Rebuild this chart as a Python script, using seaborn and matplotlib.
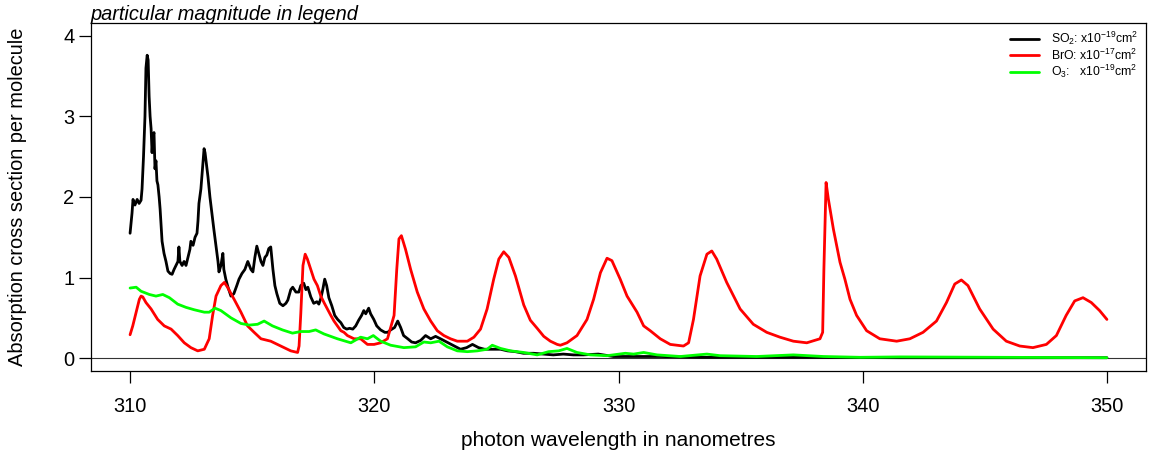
import numpy as np
import pandas as pd
import matplotlib
matplotlib.use("Agg")
import matplotlib.pyplot as plt
import seaborn as sns
from matplotlib.lines import Line2D

# ---------------- data ----------------
so2_wl = [310.00, 310.08, 310.12, 310.20, 310.29, 310.37, 310.45, 310.49, 310.55, 310.61,
          310.65, 310.70, 310.74, 310.78, 310.82, 310.86, 310.90, 310.94, 310.98, 311.02,
          311.06, 311.10, 311.14, 311.19, 311.23, 311.27, 311.31, 311.39, 311.47, 311.55,
          311.64, 311.72, 311.80, 311.88, 311.96, 312.00, 312.04, 312.13, 312.21, 312.29,
          312.37, 312.45, 312.49, 312.58, 312.66, 312.74, 312.78, 312.82, 312.90, 312.98,
          313.03, 313.07, 313.11, 313.19, 313.27, 313.35, 313.43, 313.52, 313.60, 313.64,
          313.72, 313.80, 313.84, 313.92, 314.01, 314.13, 314.25, 314.37, 314.46, 314.58,
          314.70, 314.82, 314.95, 315.03, 315.11, 315.19, 315.27, 315.36, 315.44, 315.52,
          315.60, 315.68, 315.76, 315.85, 315.93, 316.01, 316.13, 316.26, 316.38, 316.46,
          316.58, 316.66, 316.79, 316.91, 316.99, 317.11, 317.20, 317.28, 317.40, 317.52,
          317.65, 317.73, 317.81, 317.89, 317.97, 318.05, 318.14, 318.26, 318.38, 318.50,
          318.63, 318.75, 318.87, 318.99, 319.12, 319.24, 319.36, 319.48, 319.57, 319.65,
          319.77, 319.85, 319.98, 320.10, 320.26, 320.43, 320.55, 320.67, 320.83, 320.96,
          321.08, 321.20, 321.37, 321.53, 321.69, 321.90, 322.10, 322.31, 322.51, 322.71,
          322.96, 323.21, 323.53, 323.78, 324.02, 324.27, 324.51, 324.84, 325.17, 325.45,
          325.78, 326.11, 326.52, 326.93, 327.33, 327.74, 328.15, 328.56, 329.17, 329.79,
          330.48, 331.71, 333.34, 335.39, 337.43, 341.52, 345.61, 350.00]
so2_val = [1.55, 1.80, 1.97, 1.90, 1.97, 1.92, 1.96, 2.10, 2.50, 3.00,
           3.60, 3.76, 3.70, 3.25, 3.00, 2.85, 2.55, 2.75, 2.80, 2.35,
           2.45, 2.20, 2.15, 2.00, 1.85, 1.65, 1.45, 1.30, 1.20, 1.08,
           1.05, 1.04, 1.10, 1.15, 1.20, 1.38, 1.20, 1.15, 1.20, 1.15,
           1.25, 1.35, 1.45, 1.40, 1.50, 1.55, 1.70, 1.92, 2.10, 2.40,
           2.60, 2.55, 2.45, 2.25, 2.00, 1.80, 1.60, 1.39, 1.20, 1.07,
           1.15, 1.30, 1.10, 0.98, 0.88, 0.77, 0.80, 0.90, 0.98, 1.05,
           1.10, 1.20, 1.10, 1.07, 1.25, 1.39, 1.30, 1.20, 1.15, 1.25,
           1.28, 1.36, 1.38, 1.10, 0.90, 0.80, 0.68, 0.65, 0.68, 0.72,
           0.85, 0.88, 0.82, 0.82, 0.90, 0.93, 0.85, 0.88, 0.76, 0.68,
           0.70, 0.67, 0.74, 0.85, 0.98, 0.90, 0.75, 0.65, 0.53, 0.48,
           0.44, 0.38, 0.36, 0.37, 0.36, 0.40, 0.47, 0.53, 0.59, 0.55,
           0.62, 0.55, 0.48, 0.40, 0.35, 0.32, 0.32, 0.35, 0.38, 0.46,
           0.38, 0.28, 0.24, 0.20, 0.19, 0.22, 0.28, 0.24, 0.27, 0.24,
           0.20, 0.16, 0.11, 0.13, 0.17, 0.13, 0.11, 0.11, 0.11, 0.09,
           0.08, 0.06, 0.06, 0.05, 0.04, 0.05, 0.04, 0.04, 0.05, 0.02,
           0.02, 0.02, 0.01, 0.01, 0.01, 0.005, 0.005, 0.005]

bro_wl = [310.00, 310.11, 310.25, 310.38, 310.45, 310.52, 310.65, 310.86, 311.13, 311.40,
          311.68, 311.95, 312.22, 312.49, 312.77, 313.04, 313.24, 313.38, 313.52, 313.72,
          313.86, 313.99, 314.26, 314.54, 314.81, 315.08, 315.36, 315.76, 316.17, 316.58,
          316.86, 316.92, 316.99, 317.08, 317.17, 317.26, 317.40, 317.53, 317.67, 317.81,
          317.94, 318.08, 318.22, 318.35, 318.49, 318.63, 318.76, 318.90, 319.17, 319.44,
          319.72, 319.99, 320.26, 320.54, 320.81, 320.92, 321.01, 321.11, 321.28, 321.49,
          321.76, 322.03, 322.31, 322.58, 322.85, 323.12, 323.40, 323.81, 324.08, 324.35,
          324.62, 324.89, 325.10, 325.30, 325.51, 325.78, 326.12, 326.39, 326.67, 326.94,
          327.21, 327.49, 327.62, 327.89, 328.30, 328.71, 328.98, 329.26, 329.53, 329.73,
          330.07, 330.35, 330.76, 331.03, 331.30, 331.71, 332.12, 332.66, 332.87, 333.07,
          333.34, 333.62, 333.82, 334.02, 334.43, 334.98, 335.52, 336.07, 336.61, 337.16,
          337.71, 338.25, 338.36, 338.41, 338.50, 338.59, 338.80, 339.07, 339.27, 339.48,
          339.75, 340.16, 340.70, 341.39, 341.93, 342.47, 343.02, 343.43, 343.77, 344.04,
          344.31, 344.79, 345.34, 345.88, 346.43, 346.97, 347.52, 347.93, 348.33, 348.68,
          349.02, 349.36, 349.70, 350.00]
bro_val = [0.29, 0.40, 0.57, 0.73, 0.77, 0.76, 0.69, 0.61, 0.48, 0.40,
           0.36, 0.28, 0.19, 0.13, 0.09, 0.11, 0.24, 0.53, 0.77, 0.90,
           0.94, 0.88, 0.73, 0.57, 0.40, 0.32, 0.24, 0.21, 0.15, 0.09,
           0.07, 0.15, 0.55, 1.15, 1.29, 1.23, 1.10, 0.98, 0.90, 0.77,
           0.69, 0.61, 0.53, 0.46, 0.40, 0.34, 0.32, 0.28, 0.24, 0.24,
           0.17, 0.17, 0.19, 0.24, 0.53, 1.10, 1.48, 1.52, 1.35, 1.10,
           0.82, 0.61, 0.46, 0.34, 0.28, 0.24, 0.21, 0.21, 0.26, 0.36,
           0.61, 0.98, 1.23, 1.32, 1.25, 1.02, 0.66, 0.47, 0.37, 0.27,
           0.21, 0.17, 0.16, 0.19, 0.28, 0.48, 0.73, 1.06, 1.24, 1.21,
           0.98, 0.77, 0.57, 0.40, 0.34, 0.24, 0.17, 0.15, 0.19, 0.48,
           1.02, 1.29, 1.33, 1.23, 0.94, 0.61, 0.42, 0.32, 0.26, 0.21,
           0.19, 0.24, 0.32, 1.10, 2.18, 1.98, 1.60, 1.19, 0.98, 0.73,
           0.53, 0.34, 0.24, 0.21, 0.24, 0.32, 0.46, 0.69, 0.92, 0.97,
           0.90, 0.61, 0.36, 0.21, 0.15, 0.13, 0.17, 0.28, 0.53, 0.71,
           0.75, 0.69, 0.59, 0.48]

o3_wl = [310.00, 310.25, 310.45, 310.79, 311.06, 311.34, 311.61, 311.95, 312.29, 312.63,
         313.04, 313.24, 313.48, 313.72, 314.13, 314.54, 314.88, 315.22, 315.49, 315.83,
         316.24, 316.65, 316.99, 317.33, 317.60, 317.94, 318.49, 319.04, 319.44, 319.72,
         319.96, 320.26, 320.67, 321.21, 321.69, 322.03, 322.31, 322.65, 322.99, 323.40,
         323.81, 324.22, 324.62, 324.83, 325.17, 325.58, 326.12, 326.67, 327.14, 327.55,
         327.89, 328.30, 328.85, 329.53, 330.28, 330.62, 331.03, 331.58, 332.53, 333.62,
         334.16, 335.66, 337.16, 338.39, 339.89, 341.52, 345.61, 350.00]
o3_val = [0.87, 0.88, 0.83, 0.79, 0.77, 0.79, 0.75, 0.67, 0.63, 0.60,
          0.57, 0.57, 0.62, 0.59, 0.50, 0.43, 0.41, 0.42, 0.46, 0.40,
          0.35, 0.31, 0.33, 0.33, 0.35, 0.30, 0.24, 0.19, 0.26, 0.24,
          0.28, 0.21, 0.16, 0.13, 0.14, 0.20, 0.19, 0.21, 0.14, 0.09,
          0.08, 0.09, 0.11, 0.16, 0.12, 0.09, 0.07, 0.04, 0.08, 0.09,
          0.12, 0.07, 0.04, 0.03, 0.06, 0.05, 0.07, 0.04, 0.02, 0.05,
          0.03, 0.02, 0.04, 0.02, 0.01, 0.015, 0.01, 0.005]

labels = ["SO$_2$: x10$^{-19}$cm$^2$",
          "BrO: x10$^{-17}$cm$^2$",
          "O$_3$:   x10$^{-19}$cm$^2$"]
colors = ["#000000", "#FF0000", "#00FF00"]
xticks = [310, 320, 330, 340, 350]
yticks = [0, 1, 2, 3, 4]

# ---------------- styling ----------------
sns.set_style("white")
plt.rcParams["font.family"] = ["Liberation Sans", "DejaVu Sans"]
plt.rcParams["mathtext.fontset"] = "custom"
plt.rcParams["mathtext.rm"] = "Liberation Sans"
plt.rcParams["mathtext.it"] = "Liberation Sans:italic"
for k in ["text.color", "axes.labelcolor", "xtick.color", "ytick.color"]:
    plt.rcParams[k] = "black"

FS = 14.4
W, H = 1151, 462
fig = plt.figure(figsize=(W / 100, H / 100), dpi=100)
L, R, T, B = 91, 1146, 23, 371
ax = fig.add_axes([L / W, 1 - B / H, (R - L) / W, (B - T) / H])

frames = [
    pd.DataFrame({"wl": so2_wl, "v": so2_val}),
    pd.DataFrame({"wl": bro_wl, "v": bro_val}),
    pd.DataFrame({"wl": o3_wl, "v": o3_val}),
]
for df, c in zip(frames, colors):
    sns.lineplot(data=df, x="wl", y="v", ax=ax, color=c, linewidth=2.0,
                 estimator=None, sort=False)

ax.axhline(0, color="#333333", linewidth=0.8, zorder=0)

ax.set_xlim(308.4, 351.6)
ax.set_ylim(-0.16, 4.16)
ax.set_xticks(xticks)
ax.set_yticks(yticks)
ax.set_xlabel("")
ax.set_ylabel("")
for s in ax.spines.values():
    s.set_visible(True)
    s.set_color("black")
    s.set_linewidth(0.9)
ax.tick_params(axis="both", which="major", direction="out", length=8.5, width=0.9,
               color="black", labelcolor="black", labelsize=FS, left=True, bottom=True)
ax.tick_params(axis="x", pad=10)
ax.tick_params(axis="y", pad=3.5)

ax.set_title("particular magnitude in legend", loc="left", fontstyle="italic",
             fontsize=FS, pad=2, color="black")

fig.text((L + R) / 2 / W, 1 - 441 / H, "photon wavelength in nanometres",
         ha="center", va="center", fontsize=FS + 0.6)
fig.text(18 / W, 1 - (T + B) / 2 / H, "Absorption cross section per molecule",
         ha="center", va="center", rotation=90, fontsize=FS)

handles = [Line2D([0], [0], color=c, linewidth=2.0) for c in colors]
ax.legend(handles, labels, loc="upper right", bbox_to_anchor=(0.9924, 0.98),
          frameon=False, fontsize=8.8, handlelength=2.4, handletextpad=0.95,
          labelspacing=0.02, borderaxespad=0.0, borderpad=0.0)

fig.savefig("out.png", dpi=100)
